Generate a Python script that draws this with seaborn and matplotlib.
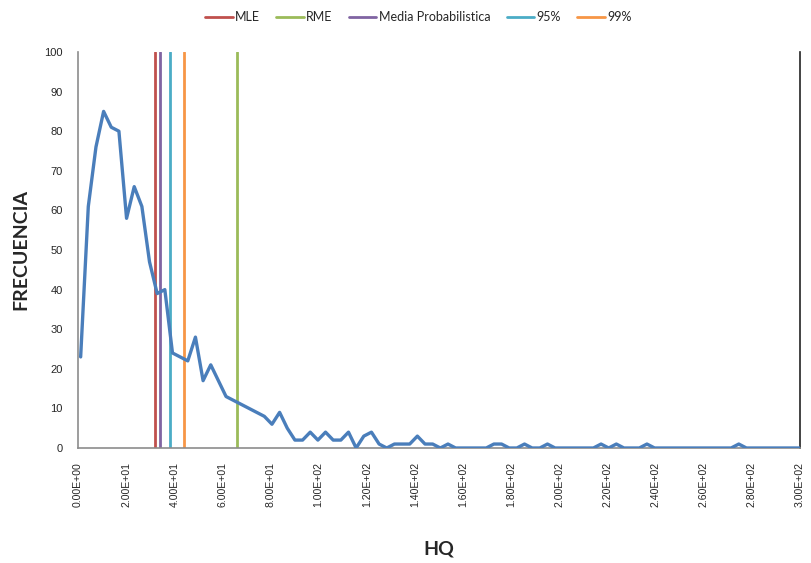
import numpy as np
import pandas as pd
import seaborn as sns
import matplotlib
matplotlib.use("Agg")
import matplotlib.pyplot as plt
from matplotlib.ticker import FuncFormatter, MultipleLocator

# Frequency of HQ values per bin (95 bins spanning the HQ range)
frecuencia = [
    23, 61, 76, 85, 81, 80, 58, 66, 61, 47,
    39, 40, 24, 23, 22, 28, 17, 21, 17, 13,
    12, 11, 10, 9, 8, 6, 9, 5, 2, 2,
    4, 2, 4, 2, 2, 4, 0, 3, 4, 1,
    0, 1, 1, 1, 3, 1, 1, 0, 1, 0,
    0, 0, 0, 0, 1, 1, 0, 0, 1, 0,
    0, 1, 0, 0, 0, 0, 0, 0, 1, 0,
    1, 0, 0, 0, 1, 0, 0, 0, 0, 0,
    0, 0, 0, 0, 0, 0, 1, 0, 0, 0,
    0, 0, 0, 0, 0,
]
hq_min, hq_max = 1.1, 300.0
hq = np.linspace(hq_min, hq_max, len(frecuencia))

# Reference statistics drawn as vertical lines
ref_labels = ["MLE", "RME", "Media Probabilistica", "95%", "99%"]
ref_values = [32.1, 66.0, 34.2, 38.3, 43.9]
ref_colors = ["#C0504D", "#9BBB59", "#8064A2", "#4BACC6", "#F79646"]

df = pd.DataFrame({"HQ": hq, "FRECUENCIA": frecuencia})

sns.set_style("white")
plt.rcParams["font.family"] = ["Liberation Sans", "DejaVu Sans"]

fig = plt.figure(figsize=(8.11, 5.63), dpi=100)
ax = fig.add_axes([78 / 811, 1 - 448 / 563, 722 / 811, 396 / 563])

sns.lineplot(data=df, x="HQ", y="FRECUENCIA", ax=ax, color="#4A7EBB",
             linewidth=2.4, zorder=3)

handles = []
for lab, val, col in zip(ref_labels, ref_values, ref_colors):
    h = ax.axvline(val, ymin=0, ymax=1, color=col, linewidth=2.0,
                   label=lab, zorder=2)
    handles.append(h)

ax.set_xlim(0, 300)
ax.set_ylim(0, 100)
ax.xaxis.set_major_locator(MultipleLocator(20))
ax.yaxis.set_major_locator(MultipleLocator(10))
ax.xaxis.set_major_formatter(FuncFormatter(lambda v, p: f"{v:.2E}"))
ax.tick_params(axis="x", labelrotation=90, labelsize=7.6, length=0, pad=10)
ax.tick_params(axis="y", labelsize=8, length=0, pad=11)

for side in ("left", "bottom"):
    ax.spines[side].set_color("#8C8C8C")
    ax.spines[side].set_linewidth(1.2)
ax.spines["top"].set_visible(False)
ax.spines["right"].set_color("#222222")
ax.spines["right"].set_linewidth(1.2)

ax.set_xlabel("HQ", fontsize=14, fontweight="bold", family=["Lato", "DejaVu Sans"],
              labelpad=24)
ax.set_ylabel("FRECUENCIA", fontsize=14, fontweight="bold",
              family=["Lato", "DejaVu Sans"], labelpad=11)

fig.legend(handles=handles, labels=ref_labels, loc="upper center",
           bbox_to_anchor=(0.516, 1.0), ncol=5, frameon=False,
           prop={"family": ["Lato", "DejaVu Sans"], "size": 9},
           handlelength=2.2, handletextpad=0.2, columnspacing=1.3)

fig.savefig("out.png", dpi=100)
